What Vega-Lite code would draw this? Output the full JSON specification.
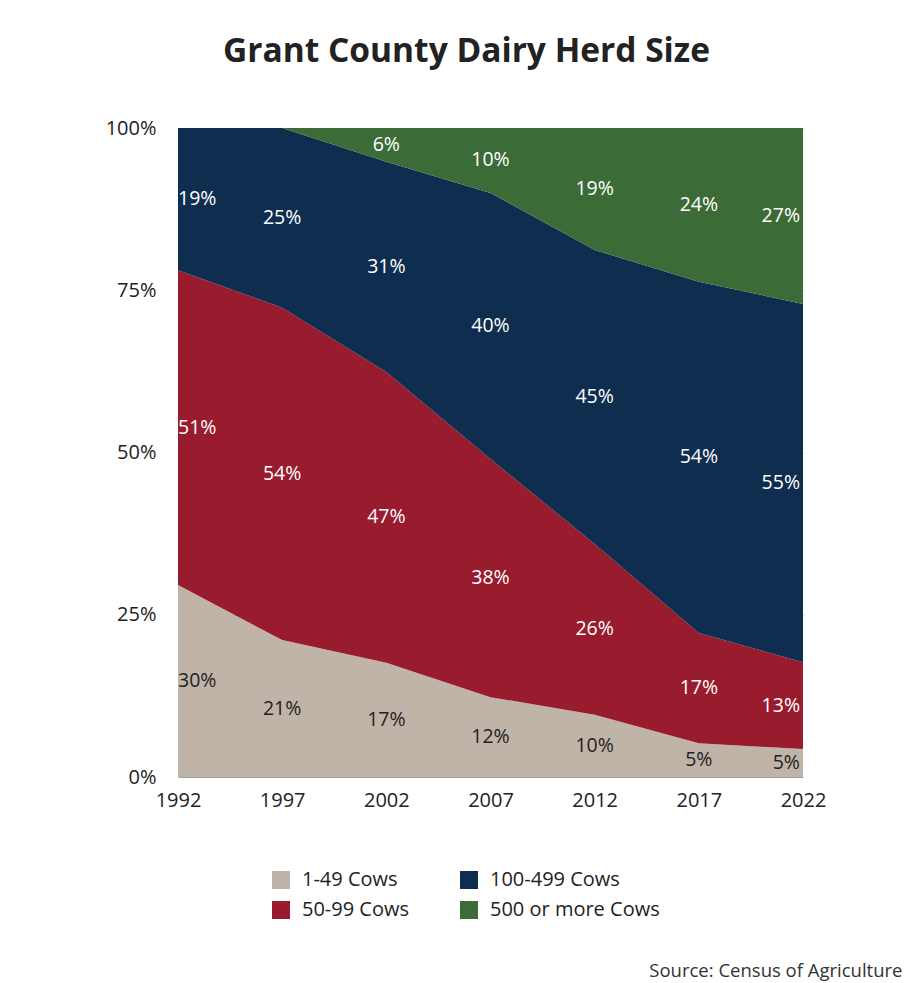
{
  "$schema": "https://vega.github.io/schema/vega-lite/v6.json",
  "autosize": {"type": "none"},
  "width": 625,
  "height": 649,
  "padding": {"left": 178, "top": 128, "right": 114, "bottom": 206},
  "background": "white",
  "config": {
    "font": "Open Sans",
    "view": {"stroke": null},
    "axis": {"labelColor": "#222222", "labelFont": "Open Sans"}
  },
  "title": {
    "text": "Grant County Dairy Herd Size",
    "fontSize": 33.5,
    "fontWeight": "bold",
    "color": "#222222",
    "font": "Open Sans",
    "anchor": "middle",
    "frame": "group",
    "baseline": "alphabetic",
    "dx": -24,
    "offset": 23
  },
  "data": {
    "values": [
      {"year": 1992, "group": "1-49 Cows", "share": 29.6, "label": "30%"},
      {"year": 1992, "group": "50-99 Cows", "share": 48.5, "label": "51%"},
      {"year": 1992, "group": "100-499 Cows", "share": 21.9, "label": "19%"},
      {"year": 1992, "group": "500 or more Cows", "share": 0, "label": ""},
      {"year": 1997, "group": "1-49 Cows", "share": 21.1, "label": "21%"},
      {"year": 1997, "group": "50-99 Cows", "share": 51.2, "label": "54%"},
      {"year": 1997, "group": "100-499 Cows", "share": 27.7, "label": "25%"},
      {"year": 1997, "group": "500 or more Cows", "share": 0, "label": ""},
      {"year": 2002, "group": "1-49 Cows", "share": 17.6, "label": "17%"},
      {"year": 2002, "group": "50-99 Cows", "share": 44.8, "label": "47%"},
      {"year": 2002, "group": "100-499 Cows", "share": 32.4, "label": "31%"},
      {"year": 2002, "group": "500 or more Cows", "share": 5.2, "label": "6%"},
      {"year": 2007, "group": "1-49 Cows", "share": 12.3, "label": "12%"},
      {"year": 2007, "group": "50-99 Cows", "share": 36.7, "label": "38%"},
      {"year": 2007, "group": "100-499 Cows", "share": 41.0, "label": "40%"},
      {"year": 2007, "group": "500 or more Cows", "share": 10.0, "label": "10%"},
      {"year": 2012, "group": "1-49 Cows", "share": 9.6, "label": "10%"},
      {"year": 2012, "group": "50-99 Cows", "share": 26.3, "label": "26%"},
      {"year": 2012, "group": "100-499 Cows", "share": 45.3, "label": "45%"},
      {"year": 2012, "group": "500 or more Cows", "share": 18.8, "label": "19%"},
      {"year": 2017, "group": "1-49 Cows", "share": 5.2, "label": "5%"},
      {"year": 2017, "group": "50-99 Cows", "share": 17.0, "label": "17%"},
      {"year": 2017, "group": "100-499 Cows", "share": 54.1, "label": "54%"},
      {"year": 2017, "group": "500 or more Cows", "share": 23.7, "label": "24%"},
      {"year": 2022, "group": "1-49 Cows", "share": 4.3, "label": "5%"},
      {"year": 2022, "group": "50-99 Cows", "share": 13.4, "label": "13%"},
      {"year": 2022, "group": "100-499 Cows", "share": 55.2, "label": "55%"},
      {"year": 2022, "group": "500 or more Cows", "share": 27.1, "label": "27%"}
    ]
  },
  "transform": [
    {"calculate": "indexof(['1-49 Cows','50-99 Cows','100-499 Cows','500 or more Cows'], datum.group)", "as": "rank"},
    {"stack": "share", "groupby": ["year"], "sort": [{"field": "rank", "order": "ascending"}], "offset": "normalize", "as": ["lo", "hi"]},
    {"calculate": "(datum.lo + datum.hi) / 2", "as": "mid"}
  ],
  "layer": [
    {
      "mark": {"type": "area", "opacity": 1},
      "encoding": {
        "x": {
          "field": "year", "type": "quantitative",
          "scale": {"domain": [1992, 2022], "nice": false, "zero": false},
          "axis": {
            "values": [1992, 1997, 2002, 2007, 2012, 2017, 2022],
            "format": "d",
            "labelFontSize": 20,
            "labelPadding": 13,
            "labelFlush": false,
            "domain": false,
            "ticks": false,
            "grid": false,
            "title": "Source: Census of Agriculture",
            "titleFontSize": 18.5,
            "titleFontWeight": "normal",
            "titleColor": "#333333",
            "titleFont": "Open Sans",
            "titleAlign": "right",
            "titleAnchor": "start",
            "titleBaseline": "middle",
            "titleX": 724,
            "titleY": 193
          }
        },
        "y": {
          "field": "hi", "type": "quantitative",
          "scale": {"domain": [0, 1], "nice": false},
          "axis": {
            "values": [0, 0.25, 0.5, 0.75, 1],
            "format": ".0%",
            "labelFontSize": 20,
            "labelPadding": 22,
            "labelFlush": false,
            "domain": false,
            "ticks": false,
            "grid": true,
            "gridColor": "#9aa6a6",
            "gridWidth": 1,
            "title": null
          }
        },
        "y2": {"field": "lo"},
        "color": {
          "field": "group", "type": "nominal",
          "scale": {
            "domain": ["1-49 Cows", "50-99 Cows", "100-499 Cows", "500 or more Cows"],
            "range": ["#c0b4a8", "#981b2e", "#0e2d4f", "#3b6b37"]
          },
          "legend": {
            "orient": "none",
            "legendX": 93,
            "legendY": 742,
            "columns": 2,
            "direction": "horizontal",
            "values": ["1-49 Cows", "100-499 Cows", "50-99 Cows", "500 or more Cows"],
            "title": null,
            "symbolType": "square",
            "symbolSize": 324,
            "symbolStrokeWidth": 0,
            "symbolOpacity": 1,
            "labelFontSize": 20,
            "labelFont": "Open Sans",
            "labelColor": "#222222",
            "labelOffset": 11,
            "labelLimit": 400,
            "rowPadding": 10,
            "columnPadding": 49,
            "gridAlign": "each"
          }
        }
      }
    },
    {
      "transform": [{"filter": "datum.label != '' && datum.year == 1992"}],
      "mark": {"type": "text", "align": "left", "baseline": "middle", "fontSize": 19.5, "font": "Open Sans"},
      "encoding": {
        "x": {"field": "year", "type": "quantitative"},
        "y": {"field": "mid", "type": "quantitative"},
        "text": {"field": "label"},
        "color": {"condition": {"test": "datum.group == '1-49 Cows'", "value": "#222222"}, "value": "#ffffff"}
      }
    },
    {
      "transform": [{"filter": "datum.label != '' && datum.year > 1992 && datum.year < 2022"}],
      "mark": {"type": "text", "align": "center", "baseline": "middle", "fontSize": 19.5, "font": "Open Sans"},
      "encoding": {
        "x": {"field": "year", "type": "quantitative"},
        "y": {"field": "mid", "type": "quantitative"},
        "text": {"field": "label"},
        "color": {"condition": {"test": "datum.group == '1-49 Cows'", "value": "#222222"}, "value": "#ffffff"}
      }
    },
    {
      "transform": [{"filter": "datum.label != '' && datum.year == 2022"}],
      "mark": {"type": "text", "align": "right", "baseline": "middle", "fontSize": 19.5, "font": "Open Sans", "dx": -3},
      "encoding": {
        "x": {"field": "year", "type": "quantitative"},
        "y": {"field": "mid", "type": "quantitative"},
        "text": {"field": "label"},
        "color": {"condition": {"test": "datum.group == '1-49 Cows'", "value": "#222222"}, "value": "#ffffff"}
      }
    }
  ]
}
